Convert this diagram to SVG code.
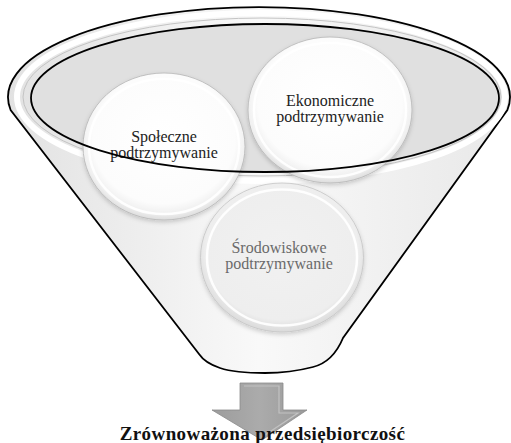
<svg xmlns="http://www.w3.org/2000/svg" width="511" height="443" viewBox="0 0 511 443">
  <style>
    .lbl { font-family: "Liberation Serif", "Times New Roman", serif; font-size: 16px; text-anchor: middle; fill: #222; }
    .lbl-dim { fill: #6a6a6a; }
    .title { font-family: "Liberation Serif", "Times New Roman", serif; font-size: 19px; font-weight: bold; text-anchor: middle; fill: #111; letter-spacing: 0.4px; }
    .disc { fill: url(#discGrad); stroke: #b5b5b5; stroke-width: 0.8; filter: url(#shadow); }
    .ring { fill: none; stroke: #ffffff; stroke-width: 2.5; opacity: 0.9; }
  </style>
  <defs>
    <linearGradient id="bodyGrad" x1="0" y1="0" x2="1" y2="0">
      <stop offset="0" stop-color="#e2e2e2"/>
      <stop offset="0.5" stop-color="#f9f9f9"/>
      <stop offset="1" stop-color="#e8e8e8"/>
    </linearGradient>
    <radialGradient id="discGrad" cx="0.5" cy="0.45" r="0.55">
      <stop offset="0" stop-color="#ffffff"/>
      <stop offset="0.8" stop-color="#fcfcfc"/>
      <stop offset="0.92" stop-color="#f0f0f0"/>
      <stop offset="1" stop-color="#dcdcdc"/>
    </radialGradient>
    <radialGradient id="discGradDim" cx="0.5" cy="0.45" r="0.55">
      <stop offset="0" stop-color="#f1f1f1"/>
      <stop offset="0.85" stop-color="#eeeeee"/>
      <stop offset="1" stop-color="#dadada"/>
    </radialGradient>
    <linearGradient id="arrowGrad" x1="0" y1="0" x2="1" y2="0">
      <stop offset="0" stop-color="#9c9c9c"/>
      <stop offset="0.5" stop-color="#ababab"/>
      <stop offset="1" stop-color="#9a9a9a"/>
    </linearGradient>
    <filter id="shadow" x="-10%" y="-10%" width="120%" height="125%">
      <feDropShadow dx="0" dy="2" stdDeviation="2" flood-color="#000" flood-opacity="0.18"/>
    </filter>
  </defs>

  <g id="funnel">
    <path d="M 10.6,110 A 251 90 0 1 1 507.4,110 L 343,338 Q 333,362 313,367 Q 290,373 265,373 Q 235,373 220,368 Q 205,363 199,354 Z" fill="url(#bodyGrad)" stroke="#000" stroke-width="1.8"/>
    <ellipse cx="261" cy="97" rx="244" ry="84" fill="none" stroke="#ffffff" stroke-width="6"/>
    <ellipse cx="262" cy="97" rx="239" ry="79" fill="none" stroke="#c4c4c4" stroke-width="1"/>
    <ellipse cx="265" cy="98" rx="234" ry="74" fill="#e0e0e0"/>
  </g>

  <g id="srodowiskowe">
    <ellipse cx="282" cy="257.5" rx="81.5" ry="74.5" fill="url(#discGradDim)" stroke="#c4c4c4" stroke-width="0.8" filter="url(#shadow)"/>
    <ellipse cx="282" cy="257.5" rx="75" ry="68" class="ring"/>
    <text class="lbl lbl-dim" x="279" y="253">Środowiskowe</text>
    <text class="lbl lbl-dim" x="279" y="269">podtrzymywanie</text>
  </g>

  <g id="spoleczne">
    <ellipse cx="164" cy="146.5" rx="81" ry="73.5" class="disc"/>
    <ellipse cx="164" cy="146.5" rx="75" ry="67.5" class="ring"/>
    <text class="lbl" x="164" y="142">Społeczne</text>
    <text class="lbl" x="164" y="158">podtrzymywanie</text>
  </g>

  <g id="ekonomiczne">
    <ellipse cx="330" cy="110" rx="82" ry="73" class="disc"/>
    <ellipse cx="330" cy="110" rx="76" ry="67" class="ring"/>
    <text class="lbl" x="330" y="106">Ekonomiczne</text>
    <text class="lbl" x="330" y="122">podtrzymywanie</text>
  </g>

  <g id="rim-outline">
    <ellipse cx="265" cy="98" rx="234" ry="74" fill="none" stroke="#000" stroke-width="1.8"/>
  </g>

  <g id="connectors">
    <path d="M 240,383 H 283 V 410 H 307 L 262,440 L 212,410 H 240 Z" fill="url(#arrowGrad)" stroke="#8a8a8a" stroke-width="0.8"/>
    <path d="M 244,386 H 279 V 413 H 298 L 262,437" fill="none" stroke="#c2c2c2" stroke-width="1.2"/>
  </g>

  <g id="result">
    <text class="title" x="262.5" y="440">Zrównoważona przedsiębiorczość</text>
  </g>
</svg>
